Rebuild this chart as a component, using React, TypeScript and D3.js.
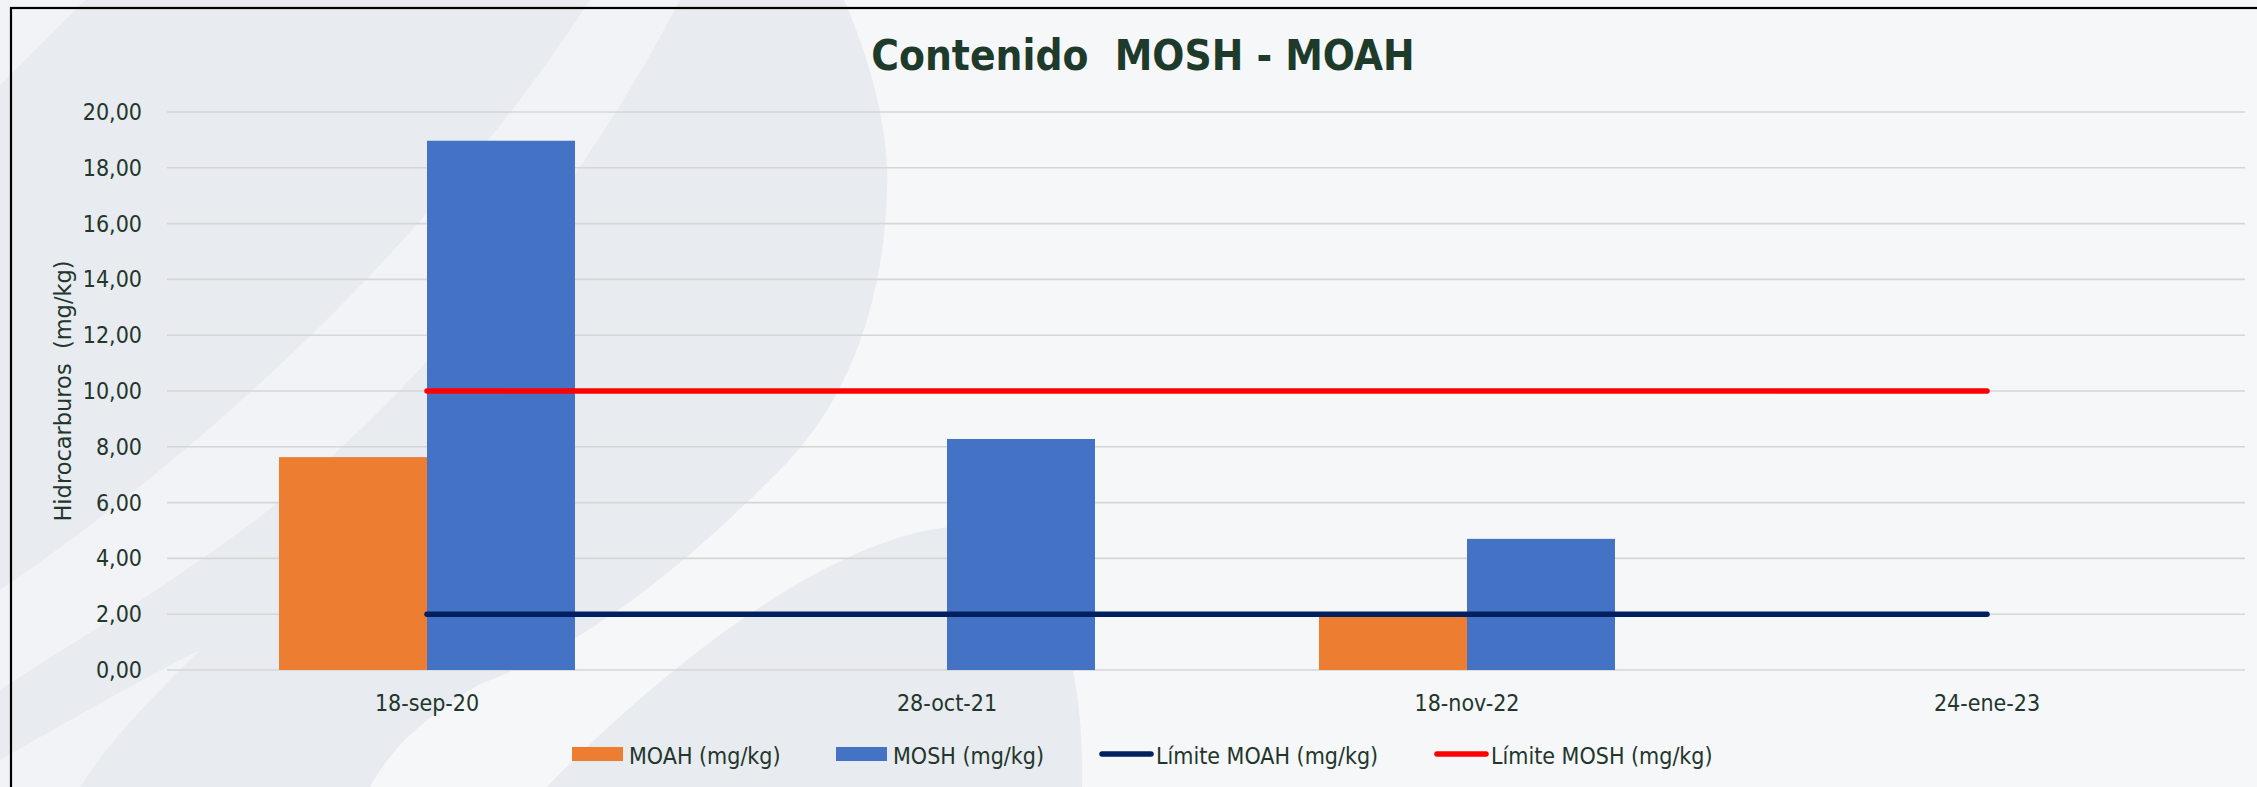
import React from 'react';
import * as d3 from 'd3';

// chart data
const categories = ['18-sep-20', '28-oct-21', '18-nov-22', '24-ene-23'];
const moah: (number | null)[] = [7.63, null, 1.95, null];
const mosh: (number | null)[] = [18.97, 8.28, 4.7, null];
const limiteMoah = [2, 2, 2, 2];
const limiteMosh = [10, 10, 10, 10];
const yTicks = [0, 2, 4, 6, 8, 10, 12, 14, 16, 18, 20];

const W = 2257;
const H = 787;
const FONT = "'DejaVu Sans Condensed', 'DejaVu Sans', sans-serif";
const TXT = '#22362b';
const DARK = '#E8EBEF';
const LIGHT = '#F1F3F6';

export default function App() {
  // plot area
  const left = 167, right = 2247, top = 112, bottom = 670;

  const x = d3.scaleBand<string>()
    .domain(categories)
    .range([left, right])
    .paddingInner(0.4308)
    .paddingOuter(0.2154);
  const x1 = d3.scaleBand<string>()
    .domain(['MOAH', 'MOSH'])
    .range([0, x.bandwidth()]);
  const y = d3.scaleLinear().domain([0, 20]).range([bottom, top]);

  const fmt = (v: number) => v.toFixed(2).replace('.', ',');
  const cx = (c: string) => (x(c) as number) + x.bandwidth() / 2;

  const line = d3.line<number>()
    .x((_, i) => cx(categories[i]))
    .y(d => y(d));

  const bars: { key: string; values: (number | null)[]; color: string }[] = [
    { key: 'MOAH', values: moah, color: '#ED7D31' },
    { key: 'MOSH', values: mosh, color: '#4472C4' },
  ];

  const legend = [
    { label: 'MOAH (mg/kg)', kind: 'rect', color: '#ED7D31', x: 572 },
    { label: 'MOSH (mg/kg)', kind: 'rect', color: '#4472C4', x: 836 },
    { label: 'Límite MOAH (mg/kg)', kind: 'line', color: '#002060', x: 1099 },
    { label: 'Límite MOSH (mg/kg)', kind: 'line', color: '#FF0000', x: 1434 },
  ];

  return (
    <svg width={W} height={H} style={{ position: 'absolute', left: 0, top: 0 }}>
      {/* background with soft decorative shapes */}
      <rect x={0} y={0} width={W} height={H} fill="#F6F7F9" />
      <path d="M0,0 L844,0 C870,60 890,130 887,190 C884,300 850,400 780,470 C700,550 600,640 480,684 C420,720 390,750 370,787 L0,787 Z" fill={DARK} />
      <path d="M590,0 L680,0 C560,230 380,440 200,560 C130,610 60,650 0,690 L0,590 C220,440 440,230 590,0 Z" fill={LIGHT} />
      <path d="M0,0 L85,0 L0,85 Z" fill={LIGHT} />
      <path d="M0,760 C70,720 140,680 200,650 C150,700 110,740 80,787 L0,787 Z" fill={LIGHT} />
      <path d="M547,787 C650,680 820,540 950,527 C1040,520 1085,640 1082,787 Z" fill={DARK} />

      {/* chart border */}
      <rect x={11} y={8} width={W + 20} height={H + 20} fill="none" stroke="#000" strokeWidth={2.2} />

      {/* title */}
      <text x={1143} y={70} textAnchor="middle" fontFamily={FONT} fontWeight="bold" fontSize={42}
        fill="#1e3a2a" style={{ whiteSpace: 'pre' }}>
        {'Contenido  MOSH - MOAH'}
      </text>

      {/* gridlines + y tick labels */}
      {yTicks.map(t => (
        <g key={t}>
          <line x1={left} x2={right - 2} y1={y(t)} y2={y(t)} stroke="#D6D6D6" strokeWidth={1.6} />
          <text x={142} y={y(t) + 8} textAnchor="end" fontFamily={FONT} fontSize={23} fill={TXT}>
            {fmt(t)}
          </text>
        </g>
      ))}

      {/* y axis title */}
      <text transform={`translate(71,${(top + bottom) / 2}) rotate(-90)`} textAnchor="middle"
        fontFamily="'DejaVu Sans', sans-serif" fontSize={22.5} fill={TXT} style={{ whiteSpace: 'pre' }}>
        {'Hidrocarburos  (mg/kg)'}
      </text>

      {/* bars */}
      {bars.map(s => (
        <g key={s.key}>
          {s.values.map((v, i) =>
            v == null ? null : (
              <rect key={i}
                x={(x(categories[i]) as number) + (x1(s.key) as number)}
                y={y(v)}
                width={x1.bandwidth()}
                height={y(0) - y(v)}
                fill={s.color} />
            ))}
        </g>
      ))}

      {/* limit lines */}
      <path d={line(limiteMoah) || ''} fill="none" stroke="#002060" strokeWidth={5.5} strokeLinecap="round" />
      <path d={line(limiteMosh) || ''} fill="none" stroke="#FF0000" strokeWidth={5.5} strokeLinecap="round" />

      {/* x labels */}
      {categories.map(c => (
        <text key={c} x={cx(c)} y={711} textAnchor="middle" fontFamily={FONT} fontSize={23} fill={TXT}>
          {c}
        </text>
      ))}

      {/* legend */}
      {legend.map(l => (
        <g key={l.label}>
          {l.kind === 'rect'
            ? <rect x={l.x} y={747} width={51} height={14} fill={l.color} />
            : <line x1={l.x + 3} x2={l.x + 52} y1={754} y2={754} stroke={l.color} strokeWidth={5.5} strokeLinecap="round" />}
          <text x={l.x + 57} y={764} fontFamily={FONT} fontSize={23} fill={TXT}>{l.label}</text>
        </g>
      ))}
    </svg>
  );
}
